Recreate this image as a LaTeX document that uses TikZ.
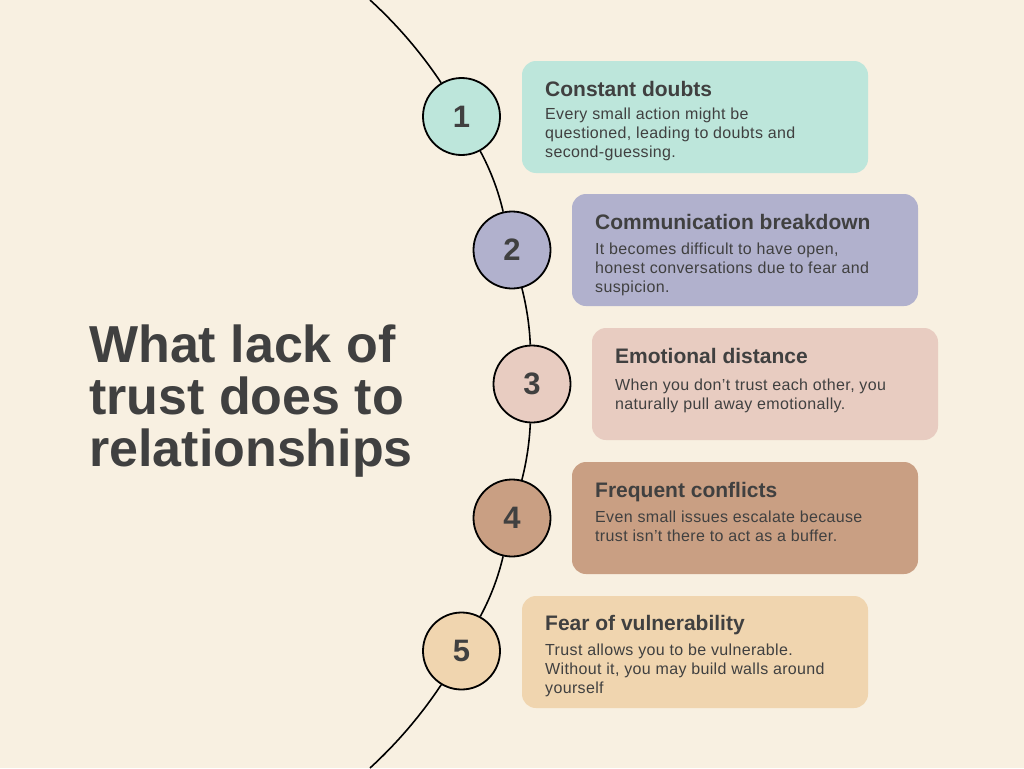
\documentclass[tikz,border=0pt]{standalone}
\usepackage{fontspec}
\setmainfont{Liberation Sans}
\usetikzlibrary{calc}
\definecolor{paper}{HTML}{F8F0E1}
\definecolor{ink}{HTML}{404040}
\definecolor{mint}{HTML}{BDE6DB}
\definecolor{lilac}{HTML}{B1B1CD}
\definecolor{blush}{HTML}{E8CCC1}
\definecolor{clay}{HTML}{C99F83}
\definecolor{sand}{HTML}{F0D5AF}
\tikzset{
    numdot/.style={circle,draw=black,line width=1.8pt,minimum size=77pt,inner sep=0pt,text=ink,font=\fontsize{31}{31}\selectfont\bfseries},
    card/.style={rounded corners=14pt,minimum width=346pt,minimum height=112pt,inner sep=0pt},
    cardhead/.style={anchor=base west,inner sep=0pt,text=ink,font=\fontsize{21}{24}\selectfont\bfseries},
    cardtext/.style={anchor=north west,inner sep=0pt,align=left,text=ink,font=\fontsize{16}{19}\selectfont\addfontfeature{LetterSpace=2.2}},
    arcline/.style={line width=1.6pt,looseness=.85}
}
\begin{document}
\begin{tikzpicture}[x=1pt,y=-1pt]
    \fill[paper] (0,0) rectangle (1024,768);
    \useasboundingbox (0,0) rectangle (1024,768);
    \coordinate (arctop) at (370,0);
    \coordinate (arcbot) at (370,768);
    \node[numdot,fill=mint] (n1) at (461.5,116.5) {1};
    \node[numdot,fill=lilac] (n2) at (512,250) {2};
    \node[numdot,fill=blush] (n3) at (532,384) {3};
    \node[numdot,fill=clay] (n4) at (512,518) {4};
    \node[numdot,fill=sand] (n5) at (461.5,651) {5};
    \draw[arcline] (arctop) to[bend left=7] (n1);
    \draw[arcline] (n1) to[bend left=7.7] (n2);
    \draw[arcline] (n2) to[bend left=6] (n3);
    \draw[arcline] (n3) to[bend left=6] (n4);
    \draw[arcline] (n4) to[bend left=7.7] (n5);
    \draw[arcline] (n5) to[bend left=7] (arcbot);
    % cards
    \node[card,fill=mint] (c1) at (695,117) {};
    \node[card,fill=lilac] (c2) at (745,250) {};
    \node[card,fill=blush] (c3) at (765,384) {};
    \node[card,fill=clay] (c4) at (745,518) {};
    \node[card,fill=sand] (c5) at (695,652) {};
    \node[cardhead] (h1) at (545,96.5) {Constant doubts};
    \node[cardtext] (t1) at (545,108) {Every small action might be\\questioned, leading to doubts and\\second-guessing.};
    \node[cardhead] (h2) at (595,229.5) {Communication breakdown};
    \node[cardtext] (t2) at (595,243) {It becomes difficult to have open,\\honest conversations due to fear and\\suspicion.};
    \node[cardhead] (h3) at (615,363.5) {Emotional distance};
    \node[cardtext] (t3) at (615,379) {When you don’t trust each other, you\\naturally pull away emotionally.};
    \node[cardhead] (h4) at (595,497.5) {Frequent conflicts};
    \node[cardtext] (t4) at (595,511) {Even small issues escalate because\\trust isn’t there to act as a buffer.};
    \node[cardhead] (h5) at (545,630.5) {Fear of vulnerability};
    \node[cardtext] (t5) at (545,644) {Trust allows you to be vulnerable.\\Without it, you may build walls around\\yourself};
    % title
    \node[anchor=west,inner sep=0pt,align=left,text=ink,font=\fontsize{52}{52.2}\selectfont\bfseries] (title) at (89,401) {What lack of\\trust does to\\relationships};
\end{tikzpicture}
\end{document}
